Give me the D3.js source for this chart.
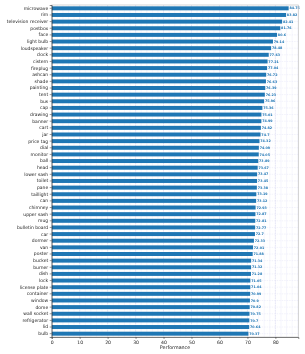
<!DOCTYPE html>
<html><head><meta charset="utf-8">
<script src="https://cdn.jsdelivr.net/npm/d3@7"></script>
<style>body{margin:0;background:#fff}svg{will-change:transform}svg text{font-family:"DejaVu Sans",sans-serif}</style>
</head><body>
<script>
const categories = ["microwave","rim","television receiver","postbox","face","light bulb","loudspeaker","clock","cistern","fireplug","ashcan","shade","painting","tent","bus","cap","drawing","banner","cart","jar","price tag","dial","monitor","ball","head","lower sash","toilet","pane","taillight","can","chimney","upper sash","mug","bulletin board","car","dormer","van","poster","bucket","burner","dish","lock","license plate","container","window","dome","wall socket","refrigerator","lid","bulb"];
const performance = [84.75,83.82,82.41,81.76,80.6,79.14,78.48,77.63,77.21,77.04,76.72,76.63,76.39,76.23,75.96,75.36,75.01,74.99,74.82,74.7,74.32,74.09,74.05,73.89,73.67,73.47,73.45,73.38,73.19,73.12,72.93,72.87,72.81,72.77,72.7,72.33,72.01,71.88,71.34,71.32,71.28,71.05,71.04,70.99,70.9,70.82,70.75,70.7,70.64,70.37];
const xTicks = [0,10,20,30,40,50,60,70,80];
const xLabel = "Performance";

const W = 305, H = 354;
const m = {l: 51.7, r: 6.7, t: 5, b: 17};
const svg = d3.select("body").append("svg").attr("width", W).attr("height", H);
const x = d3.scaleLinear().domain([0, 88.2]).range([m.l, W - m.r]);
const y = d3.scaleBand().domain(categories).range([m.t, H - m.b]).paddingInner(0.4).paddingOuter(0.2);

// grid
const g = svg.append("g");
g.selectAll("line.minor").data(d3.range(0, 88.2, 2)).join("line")
  .attr("x1", d => x(d)).attr("x2", d => x(d)).attr("y1", m.t).attr("y2", H - m.b)
  .attr("stroke", "#ececfa").attr("stroke-width", 0.5);
g.selectAll("line.major").data(xTicks).join("line")
  .attr("x1", d => x(d)).attr("x2", d => x(d)).attr("y1", m.t).attr("y2", H - m.b)
  .attr("stroke", "#dcdcf2").attr("stroke-width", 0.6).attr("stroke-dasharray", "1.5,1");
g.selectAll("line.h").data(categories).join("line")
  .attr("x1", m.l).attr("x2", W - m.r)
  .attr("y1", d => y(d) + y.bandwidth() / 2).attr("y2", d => y(d) + y.bandwidth() / 2)
  .attr("stroke", "#e4e4f6").attr("stroke-width", 0.5).attr("stroke-dasharray", "1.5,1");

// bars
svg.selectAll("rect.bar").data(categories).join("rect")
  .attr("x", x(0)).attr("y", d => y(d))
  .attr("width", (d, i) => x(performance[i]) - x(0)).attr("height", y.bandwidth())
  .attr("fill", "#1f77b4");

// value labels
svg.selectAll("text.val").data(categories).join("text")
  .attr("x", (d, i) => x(performance[i]) + 0.8).attr("y", d => y(d) + y.bandwidth() / 2)
  .attr("dy", "0.35em").attr("font-size", 3.3).attr("font-weight", "bold").attr("fill", "#1f77b4")
  .text((d, i) => String(performance[i]));

// frame
svg.append("rect").attr("x", m.l).attr("y", m.t).attr("width", W - m.r - m.l).attr("height", H - m.b - m.t)
  .attr("fill", "none").attr("stroke", "#bbb").attr("stroke-width", 0.6);

// axes
const ax = svg.append("g").attr("transform", `translate(0,${H - m.b})`)
  .call(d3.axisBottom(x).tickValues(xTicks).tickSize(2).tickPadding(1.5));
ax.selectAll("text").attr("font-size", 4.6).attr("fill", "#222");
ax.select(".domain").attr("stroke", "#333").attr("stroke-width", 0.6);
ax.selectAll(".tick line").attr("stroke", "#333").attr("stroke-width", 0.5);

const ay = svg.append("g").attr("transform", `translate(${m.l},0)`)
  .call(d3.axisLeft(y).tickSize(2).tickPadding(1.5));
ay.selectAll("text").attr("font-size", 4.5).attr("fill", "#222");
ay.select(".domain").attr("stroke", "#333").attr("stroke-width", 0.6);
ay.selectAll(".tick line").attr("stroke", "#333").attr("stroke-width", 0.5);

svg.append("text").attr("x", (m.l + W - m.r) / 2).attr("y", H - 5.5)
  .attr("text-anchor", "middle").attr("font-size", 4.8).attr("fill", "#222").text(xLabel);
</script>
</body></html>
